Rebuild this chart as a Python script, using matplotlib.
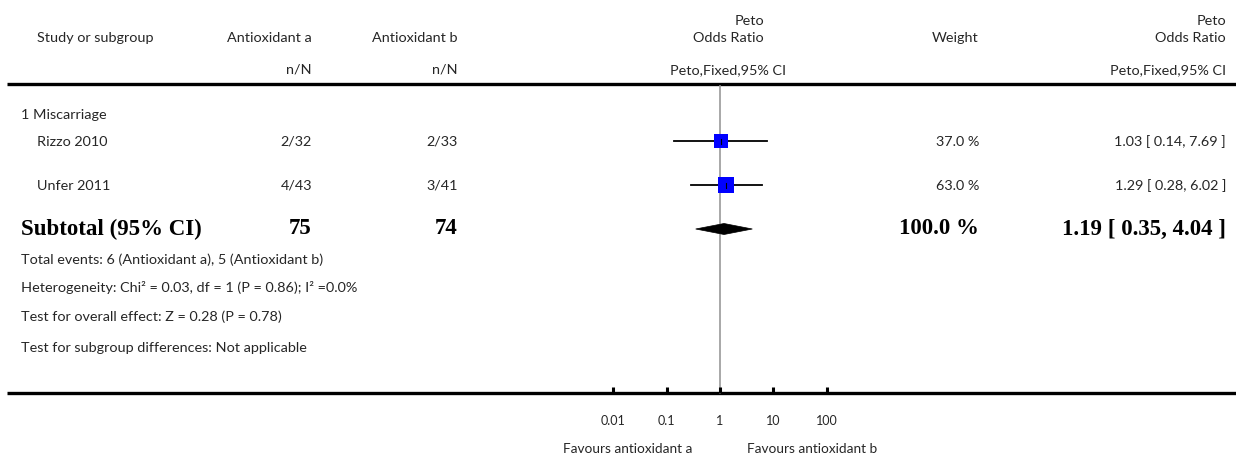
import matplotlib
matplotlib.use("Agg")
import matplotlib.pyplot as plt
from matplotlib.patches import Polygon
import numpy as np

# ---- data -------------------------------------------------------------
subgroup = "1 Miscarriage"
studies = ["Rizzo 2010", "Unfer 2011"]
events_a = ["2/32", "4/43"]
events_b = ["2/33", "3/41"]
odds_ratio = [1.03, 1.29]
ci_low = [0.14, 0.28]
ci_high = [7.69, 6.02]
weights = [37.0, 63.0]

total_a = 75
total_b = 74
pooled_or = 1.19
pooled_low = 0.35
pooled_high = 4.04
pooled_weight = 100.0

footnotes = [
    "Total events: 6 (Antioxidant a), 5 (Antioxidant b)",
    "Heterogeneity: Chi\u00b2 = 0.03, df = 1 (P = 0.86); I\u00b2 =0.0%",
    "Test for overall effect: Z = 0.28 (P = 0.78)",
    "Test for subgroup differences: Not applicable",
]
tick_values = [0.01, 0.1, 1, 10, 100]
tick_labels = ["0.01", "0.1", "1", "10", "100"]
favours_left = "Favours antioxidant a"
favours_right = "Favours antioxidant b"

# ---- layout -----------------------------------------------------------
W, H = 1236, 459
DPI = 100
SANS = ["Lato", "DejaVu Sans"]
SERIF = ["Liberation Serif", "DejaVu Serif"]
TXT = "#262626"
FS = 10.4
FS_BOLD = 16.5

fig = plt.figure(figsize=(W / DPI, H / DPI), dpi=DPI)
ax = fig.add_axes([0, 0, 1, 1])
ax.set_xlim(0, W)
ax.set_ylim(H, 0)
ax.axis("off")

# forest panel: log scale, 6 decades over 320 px centred on OR = 1 at x=720
fx0, fx1 = 560, 880
fax = fig.add_axes([fx0 / W, 0, (fx1 - fx0) / W, 1])
fax.set_xscale("log")
fax.set_xlim(1e-3, 1e3)
fax.set_ylim(H, 0)
fax.axis("off")
fax.patch.set_alpha(0)

def t(x, y, s, ha="left", **kw):
    kw.setdefault("family", SANS)
    kw.setdefault("fontsize", FS)
    kw.setdefault("color", TXT)
    ax.text(x, y, s, ha=ha, va="center", **kw)

# column positions
x_study = 37
x_a = 312
x_b = 458
x_mid = 764
x_w = 979
x_or = 1226

# header
t(x_study, 38, "Study or subgroup")
t(x_a, 38, "Antioxidant a", ha="right")
t(x_a, 70, "n/N", ha="right")
t(x_b, 38, "Antioxidant b", ha="right")
t(x_b, 70, "n/N", ha="right")
t(x_mid, 21, "Peto", ha="right")
t(x_mid, 38, "Odds Ratio", ha="right")
t(728, 70, "Peto,Fixed,95% CI", ha="center")
t(x_w, 38, "Weight", ha="right")
t(x_or, 21, "Peto", ha="right")
t(x_or, 38, "Odds Ratio", ha="right")
t(x_or, 70, "Peto,Fixed,95% CI", ha="right")

ax.plot([7, W], [84, 84], color="black", lw=2.4, solid_capstyle="butt")
ax.plot([7, W], [393, 393], color="black", lw=2.4, solid_capstyle="butt")

# subgroup + study rows
t(21, 115, subgroup)
row_y = [141, 185]
for i, name in enumerate(studies):
    y = row_y[i]
    t(x_study, y + 1, name)
    t(x_a, y + 1, events_a[i], ha="right")
    t(x_b, y + 1, events_b[i], ha="right")
    t(x_w, y + 1, f"{weights[i]:.1f} %", ha="right")
    t(x_or, y + 1, f"{odds_ratio[i]:.2f} [ {ci_low[i]:.2f}, {ci_high[i]:.2f} ]", ha="right")
    fax.plot([ci_low[i], ci_high[i]], [y, y], color="black", lw=1.3, zorder=3)
    side_px = 2.14 * np.sqrt(weights[i])
    fax.plot([odds_ratio[i]], [y], marker="s", markersize=side_px * 72 / DPI,
             color="#0000ff", markeredgewidth=0, linestyle="none", zorder=4)
    fax.plot([odds_ratio[i], odds_ratio[i]], [y - 2.5, y + 2.5], color="black", lw=0.8, zorder=5)

# subtotal row
ys = 229
bold = dict(family=SERIF, fontsize=FS_BOLD, fontweight="bold", color="black")
t(21, ys, "Subtotal (95% CI)", **bold)
t(x_a, ys, f"{total_a}", ha="right", **bold)
t(x_b, ys, f"{total_b}", ha="right", **bold)
t(x_w, ys, f"{pooled_weight:.1f} %", ha="right", **bold)
t(x_or, ys, f"{pooled_or:.2f} [ {pooled_low:.2f}, {pooled_high:.2f} ]", ha="right", **bold)
diamond = Polygon([(pooled_low, ys), (pooled_or, ys - 5.5), (pooled_high, ys), (pooled_or, ys + 5.5)],
                  closed=True, facecolor="black", edgecolor="black", lw=0.5, zorder=4)
fax.add_patch(diamond)

# footnotes
for y, line in zip([260, 288, 317, 348], footnotes):
    t(21, y, line)

# line of no effect and axis ticks
fax.plot([1, 1], [86, 393], color="#999999", lw=1.2, zorder=2)
for v, lab in zip(tick_values, tick_labels):
    fax.plot([v, v], [387, 393], color="black", lw=2.2, solid_capstyle="butt")
    fax.text(v, 421, lab, ha="center", va="center", family=SANS, fontsize=9, color=TXT)
fax.text(0.2985, 449, favours_left, ha="right", va="center", family=SANS, fontsize=9.8, color=TXT)
fax.text(3.21, 449, favours_right, ha="left", va="center", family=SANS, fontsize=9.8, color=TXT)

fig.savefig("out.png", dpi=DPI)
